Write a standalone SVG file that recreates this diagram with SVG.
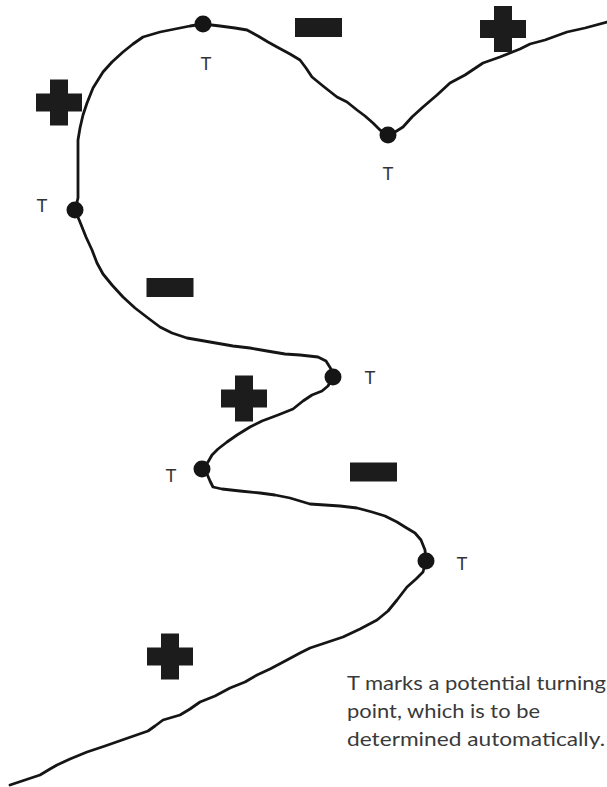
<svg xmlns="http://www.w3.org/2000/svg" width="607" height="787" viewBox="0 0 607 787">
<style>
.curve{fill:none;stroke:#151515;stroke-width:2.8;stroke-linejoin:round;stroke-linecap:round}
.dot{fill:#151515}
.sign{fill:#1c1c1c}
.tl{font-family:"Liberation Sans",Arial,sans-serif;font-size:18px;fill:#333;text-anchor:middle}
.cap{font-family:Lato,"Open Sans",sans-serif;font-size:20px;fill:#3a3a3a}
</style>
<defs>
<path id="plus" d="M-9,-23h18v14h14v18h-14v14h-18v-14h-14v-18h14z"/>
<rect id="minus" x="-23.5" y="-9.5" width="47" height="19"/>
</defs>
<rect width="607" height="787" fill="#fff"/>
<g id="connectors">
<polyline class="curve" points="10,785 25,780 40,775 50,769 57,765 70,759 87,752 105,746 125,739 148,731 155,726 163,720 180,715 190,709 200,702 215,696 230,688 245,682 257,675 270,669 287,660 300,653 310,648 325,643 343,637 360,629 377,620 388,611 397,600 407,587 416,579 423,572 426,561 425,550 421,540 415,533 405,527 397,522 385,516 372,512 357,508 340,506 325,505 310,504 290,498 275,495 260,493 240,491 222,489 213,487 210,481 207,474 202,469 208,462 212,455 218,449 227,442 237,435 250,427 262,421 278,415 293,409 303,401 312,395 322,391 328,386 333,377 331,369 326,361 318,357 300,355 285,354 267,351 250,348 233,346 210,342 187,338 172,333 160,327 148,318 135,308 123,297 112,285 103,274 97,263 92,250 86,237 80,222 75,210 78,198 78,185 78,170 78,155 78,140 80,128 83,115 87,103 93,88 98,80 103,72 112,62 123,52 133,44 143,37 160,32 175,29 190,26 203,24 220,26 235,28 247,30 258,36 268,42 277,47 290,54 300,60 306,68 312,77 323,86 337,97 347,102 357,110 365,116 373,123 380,130 388,135 395,132 403,127 412,117 423,107 437,95 450,83 465,75 483,63 500,57 520,49 530,44 545,40 567,32 585,28 607,22"/>
</g>
<g id="t-top"><circle class="dot" cx="203" cy="24" r="8.5"/><text class="tl" x="206" y="70">T</text></g>
<g id="t-valley"><circle class="dot" cx="388" cy="135" r="8.5"/><text class="tl" x="388" y="180">T</text></g>
<g id="t-left"><circle class="dot" cx="75" cy="210" r="8.5"/><text class="tl" x="42" y="212">T</text></g>
<g id="t-mid-right"><circle class="dot" cx="333" cy="377" r="8.5"/><text class="tl" x="370" y="384">T</text></g>
<g id="t-mid-left"><circle class="dot" cx="202" cy="469" r="8.5"/><text class="tl" x="171" y="482">T</text></g>
<g id="t-lower-right"><circle class="dot" cx="426" cy="561" r="8.5"/><text class="tl" x="462" y="570">T</text></g>
<g id="signs" class="sign">
<use href="#plus" x="59" y="102.5"/>
<use href="#minus" x="318.5" y="27.5"/>
<use href="#plus" x="503" y="29"/>
<use href="#minus" x="170" y="287.5"/>
<use href="#plus" x="244" y="398.5"/>
<use href="#minus" x="373.5" y="472"/>
<use href="#plus" x="170" y="656.5"/>
</g>
<g id="caption" class="cap">
<text x="347" y="690" textLength="259" lengthAdjust="spacingAndGlyphs">T marks a potential turning</text>
<text x="347" y="718" textLength="193" lengthAdjust="spacingAndGlyphs">point, which is to be</text>
<text x="347" y="746" textLength="258" lengthAdjust="spacingAndGlyphs">determined automatically.</text>
</g>
</svg>
